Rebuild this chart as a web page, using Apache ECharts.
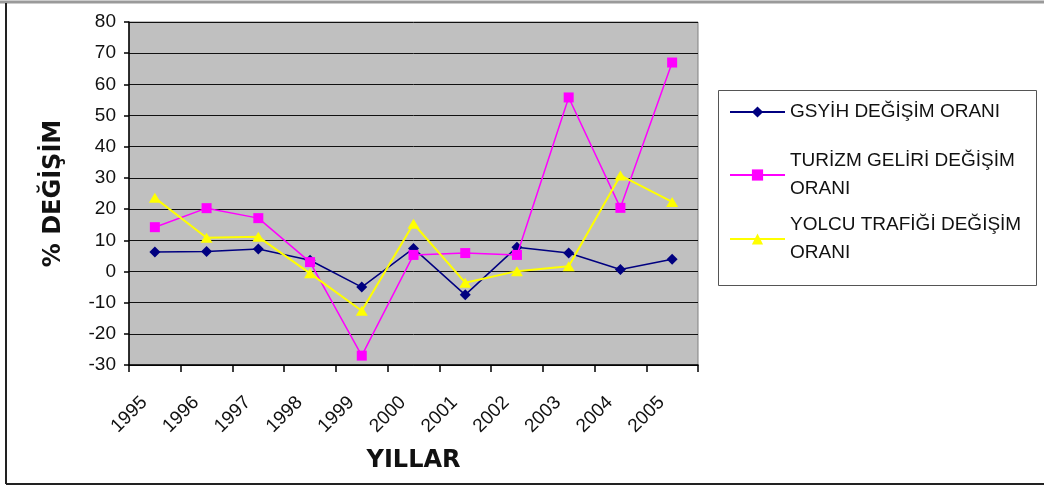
<!DOCTYPE html>
<html>
<head>
<meta charset="utf-8">
<script src="https://cdn.jsdelivr.net/npm/echarts@6/dist/echarts.min.js"></script>
<style>
  html, body { margin: 0; padding: 0; background: #ffffff; }
  #chart { width: 1044px; height: 486px; }
</style>
</head>
<body>
<div id="chart"></div>
<script>
// Yıllar ve yüzde değişim oranları
const years = ['1995', '1996', '1997', '1998', '1999', '2000', '2001', '2002', '2003', '2004', '2005'];
const gsyihRate = [6.2, 6.4, 7.2, 3.6, -5.0, 7.4, -7.5, 7.8, 5.9, 0.6, 3.9];
const turizmRate = [14.2, 20.3, 17.1, 3.0, -27.0, 5.3, 5.9, 5.3, 55.8, 20.4, 67.0];
const yolcuRate = [23.6, 10.8, 11.1, -0.6, -12.6, 15.3, -3.6, 0.1, 1.7, 30.8, 22.3];

const seriesNames = [
  'GSYİH DEĞİŞİM ORANI',
  'TURİZM GELİRİ DEĞİŞİM ORANI',
  'YOLCU TRAFİĞİ DEĞİŞİM ORANI'
];
const legendLabels = [
  'GSYİH DEĞİŞİM ORANI',
  'TURİZM GELİRİ DEĞİŞİM\nORANI',
  'YOLCU TRAFİĞİ DEĞİŞİM\nORANI'
];

const tickFont = { fontFamily: 'Liberation Sans, Arial, sans-serif', fontSize: 19, color: '#111' };
const titleFont = { fontFamily: 'DejaVu Sans, sans-serif', fontSize: 24, fontWeight: 'bold', color: '#111' };
const legendLine = 28;

function legendFor(i, top, twoLines) {
  return {
    data: [seriesNames[i]],
    left: 729,
    top: top,
    padding: 0,
    itemWidth: 55,
    itemHeight: 14,
    selectedMode: false,
    formatter: () => legendLabels[i],
    textStyle: {
      fontFamily: 'Liberation Sans, Arial, sans-serif',
      fontSize: 19,
      color: '#111',
      lineHeight: legendLine,
      padding: twoLines ? [legendLine, 0, 0, 0] : 0
    }
  };
}

const chart = echarts.init(document.getElementById('chart'), null, { renderer: 'canvas' });

chart.setOption({
  backgroundColor: '#ffffff',
  animation: false,
  graphic: [
    // outer frame
    { type: 'line', shape: { x1: 0, y1: 2, x2: 1044, y2: 2 }, style: { stroke: '#9a9a9a', lineWidth: 3 }, z: 0 },
    { type: 'line', shape: { x1: 6, y1: 3, x2: 6, y2: 484 }, style: { stroke: '#222', lineWidth: 2 }, z: 0 },
    { type: 'line', shape: { x1: 6, y1: 484, x2: 1044, y2: 484 }, style: { stroke: '#222', lineWidth: 2 }, z: 0 },
    // legend box
    { type: 'rect', shape: { x: 718.5, y: 90.5, width: 318, height: 195 }, style: { fill: '#ffffff', stroke: '#555', lineWidth: 1 }, z: 0 }
  ],
  legend: [
    legendFor(0, 98, false),
    legendFor(1, 133, true),
    legendFor(2, 197, true)
  ],
  grid: {
    left: 129,
    right: 346,
    top: 22,
    bottom: 121,
    show: true,
    backgroundColor: '#c0c0c0',
    borderColor: '#808080',
    borderWidth: 1
  },
  xAxis: {
    type: 'category',
    data: years,
    boundaryGap: true,
    name: 'YILLAR',
    nameLocation: 'middle',
    nameGap: 84,
    nameTextStyle: titleFont,
    axisLine: { onZero: false, lineStyle: { color: '#000', width: 1.5 } },
    axisTick: { show: true, length: 7, lineStyle: { color: '#000', width: 1.5 } },
    axisLabel: Object.assign({ rotate: 45, margin: 24, padding: [0, 15, 0, 0], interval: 0 }, tickFont),
    splitLine: { show: false }
  },
  yAxis: {
    type: 'value',
    min: -30,
    max: 80,
    interval: 10,
    name: '% DEĞİŞİM',
    nameLocation: 'middle',
    nameGap: 63,
    nameTextStyle: titleFont,
    axisLine: { show: true, lineStyle: { color: '#000', width: 1.5 } },
    axisTick: { show: true, length: 5, lineStyle: { color: '#000', width: 1.5 } },
    axisLabel: Object.assign({ margin: 13 }, tickFont),
    splitLine: { show: true, lineStyle: { color: '#111', width: 1 } }
  },
  series: [
    {
      name: seriesNames[0],
      type: 'line',
      data: gsyihRate,
      symbol: 'diamond',
      symbolSize: [11, 11],
      lineStyle: { color: '#000080', width: 1.5 },
      itemStyle: { color: '#000080' },
      z: 3
    },
    {
      name: seriesNames[1],
      type: 'line',
      data: turizmRate,
      symbol: 'rect',
      symbolSize: 10,
      lineStyle: { color: '#ff00ff', width: 1.5 },
      itemStyle: { color: '#ff00ff' },
      z: 4
    },
    {
      name: seriesNames[2],
      type: 'line',
      data: yolcuRate,
      symbol: 'triangle',
      symbolSize: [12, 10],
      lineStyle: { color: '#ffff00', width: 2 },
      itemStyle: { color: '#ffff00' },
      z: 5
    }
  ]
});
</script>
</body>
</html>
